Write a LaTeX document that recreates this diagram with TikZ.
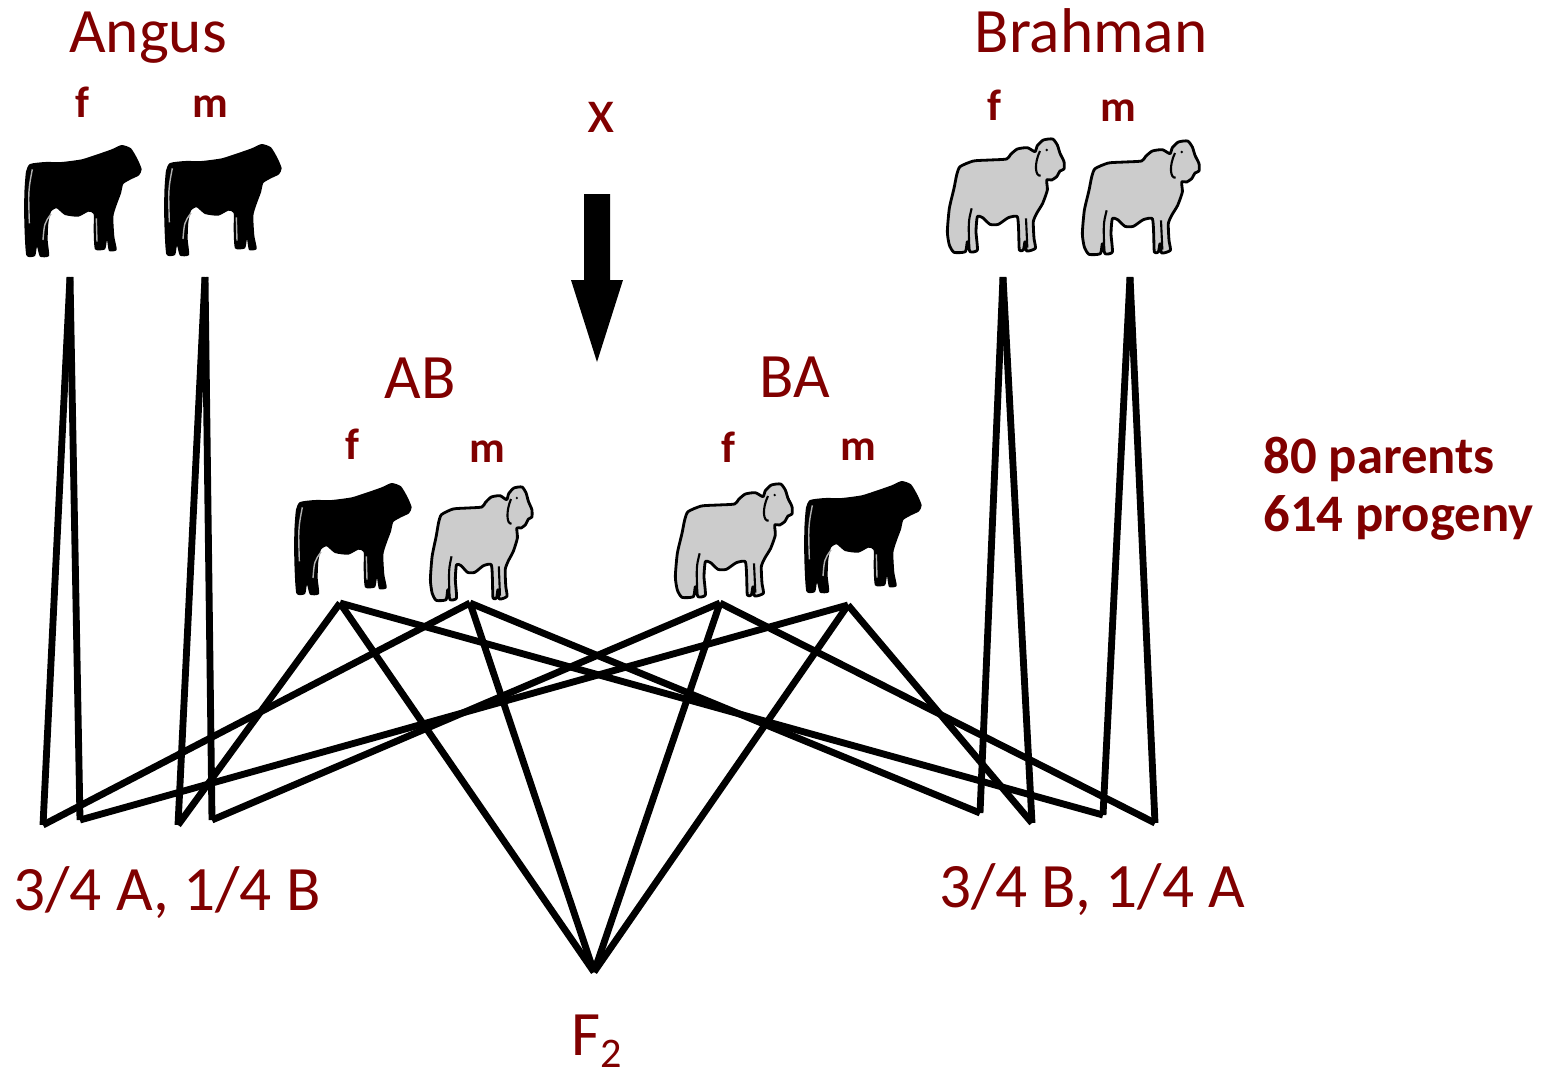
\documentclass[tikz,border=0pt]{standalone}
\usepackage{fontspec}
\setmainfont{Carlito}
\usepackage{tikz}
\usetikzlibrary{positioning}

\definecolor{breedred}{RGB}{128,0,0}
\definecolor{cowgray}{RGB}{204,204,204}
\tikzset{
  big label/.style={text=breedred, font=\fontsize{36}{43}\selectfont, inner sep=0pt, anchor=base},
  sex label/.style={text=breedred, font=\fontsize{25}{30}\selectfont\bfseries, inner sep=0pt, anchor=base},
  count label/.style={text=breedred, font=\fontsize{30}{36}\selectfont\bfseries, inner sep=0pt, anchor=base west},
  cross line/.style={line width=3.9pt},
}
\newcommand{\ed}[2]{\draw[cross line] (#1) -- (#2);}

% black Angus, outline given in thirds of a pixel from its top left corner
\newcommand{\angus}[1]{%
  \begin{scope}[shift={(#1)}, scale=1/3]
    \fill[black] plot[smooth cycle, tension=0.35] coordinates {
      (45,72) (90,66) (140,66) (200,58) (250,42) (290,28) (320,15) (348,25)
      (368,58) (380,88) (372,106) (348,118) (325,132) (318,160) (305,195)
      (295,230) (298,290) (305,330) (282,333) (276,300) (270,328) (240,328)
      (236,270) (236,222) (220,215) (190,230) (150,225) (125,205) (108,215)
      (100,250) (98,300) (102,348) (75,350) (66,320) (60,348) (34,346)
      (28,250) (28,160) (33,95)};
    \draw[gray!60, line width=0.8pt] (52,88) .. controls (40,150) .. (43,250);
    \draw[gray!60, line width=0.8pt] (108,222) .. controls (88,250) .. (84,300);
    \draw[gray!60, line width=0.8pt] (244,235) -- (246,305);
  \end{scope}}

% grey Brahman with hump, same units
\newcommand{\brahman}[2][1]{%
  \begin{scope}[shift={(#2)}, xscale=#1, scale=1/3]
    \filldraw[fill=cowgray, draw=black, line width=1.6pt, line join=round]
      plot[smooth cycle, tension=0.35] coordinates {
      (60,95) (100,78) (150,75) (200,72) (212,58) (232,42) (262,38) (285,50)
      (292,32) (310,15) (338,12) (352,30) (360,55) (372,80) (372,102)
      (360,108) (350,125) (335,135) (320,135) (322,165) (308,205) (290,235)
      (280,260) (282,310) (286,340) (260,348) (255,320) (250,345) (238,345)
      (236,290) (232,245) (205,248) (175,268) (150,268) (128,248) (112,245)
      (108,290) (112,345) (90,350) (82,320) (76,350) (42,352) (28,330)
      (22,290) (28,220) (42,160) (50,120)};
    \draw[line width=1.2pt] (300,48) .. controls (282,85) and (285,125) .. (302,122);
    \draw[line width=1.2pt] (95,220) .. controls (85,260) .. (88,340);
    \draw[line width=1.2pt] (258,250) -- (262,338);
    \fill (320,45) circle (4);
  \end{scope}}

\begin{document}
\begin{tikzpicture}[x=0.02cm, y=-0.02cm]
  \useasboundingbox (0,0) rectangle (1555,1076);

  % purebred parents
  \node[big label] (angus) at (148,52) {Angus};
  \node[big label] (brahman) at (1091,52) {Brahman};
  \node[sex label] (angf-sex) at (82,117) {f};
  \node[sex label] (angm-sex) at (210,117) {m};
  \node[sex label] (brf-sex) at (994,120) {f};
  \node[sex label] (brm-sex) at (1118,121) {m};
  \angus{15,140}
  \angus{155,139}
  \brahman{940,135}
  \brahman{1075,137}

  % cross arrow
  \node[big label] (cross) at (601,132) {x};
  \fill (584,194) -- (610,194) -- (610,280) -- (623,280) -- (597,362)
        -- (571,280) -- (584,280) -- cycle;

  % F1 parents
  \node[big label] (ab) at (420,398) {AB};
  \node[big label] (ba) at (795,397) {BA};
  \node[sex label] (abf-sex) at (352,459) {f};
  \node[sex label] (abm-sex) at (487,462) {m};
  \node[sex label] (baf-sex) at (728,462) {f};
  \node[sex label] (bam-sex) at (858,460) {m};
  \angus{285,478}
  \brahman[0.87]{424,483}
  \brahman{668,480}
  \angus{795,476}

  \node[count label] (parents) at (1263,473) {80 parents};
  \node[count label] (progeny) at (1263,531) {614 progeny};

  % where the lines meet
  \coordinate (angf) at (70,277);
  \coordinate (angm) at (205,277);
  \coordinate (brf) at (1003,277);
  \coordinate (brm) at (1130,277);
  \coordinate (abf) at (340,603);
  \coordinate (abm) at (470,603);
  \coordinate (baf) at (720,603);
  \coordinate (bam) at (848,605);
  \coordinate (bc1) at (43,825);
  \coordinate (bc2) at (80,820);
  \coordinate (bc3) at (178,825);
  \coordinate (bc4) at (212,820);
  \coordinate (bb1) at (980,813);
  \coordinate (bb2) at (1032,823);
  \coordinate (bb3) at (1103,815);
  \coordinate (bb4) at (1155,823);
  \coordinate (f2) at (594,972);

  \ed{angf}{bc1}
  \ed{angf}{bc2}
  \ed{angm}{bc3}
  \ed{angm}{bc4}
  \ed{abm}{bc1}
  \ed{bam}{bc2}
  \ed{abf}{bc3}
  \ed{baf}{bc4}

  \ed{brf}{bb1}
  \ed{brf}{bb2}
  \ed{brm}{bb3}
  \ed{brm}{bb4}
  \ed{abm}{bb1}
  \ed{bam}{bb2}
  \ed{abf}{bb3}
  \ed{baf}{bb4}

  \ed{abf}{f2}
  \ed{abm}{f2}
  \ed{baf}{f2}
  \ed{bam}{f2}

  % backcross and F2 groups
  \node[big label] (back-a) at (167,910) {3/4 A, 1/4 B};
  \node[big label] (back-b) at (1092,907) {3/4 B, 1/4 A};
  \node[big label] (ftwo) at (597,1055) {F\raisebox{-0.2em}{\fontsize{24}{24}\selectfont 2}};
\end{tikzpicture}
\end{document}
